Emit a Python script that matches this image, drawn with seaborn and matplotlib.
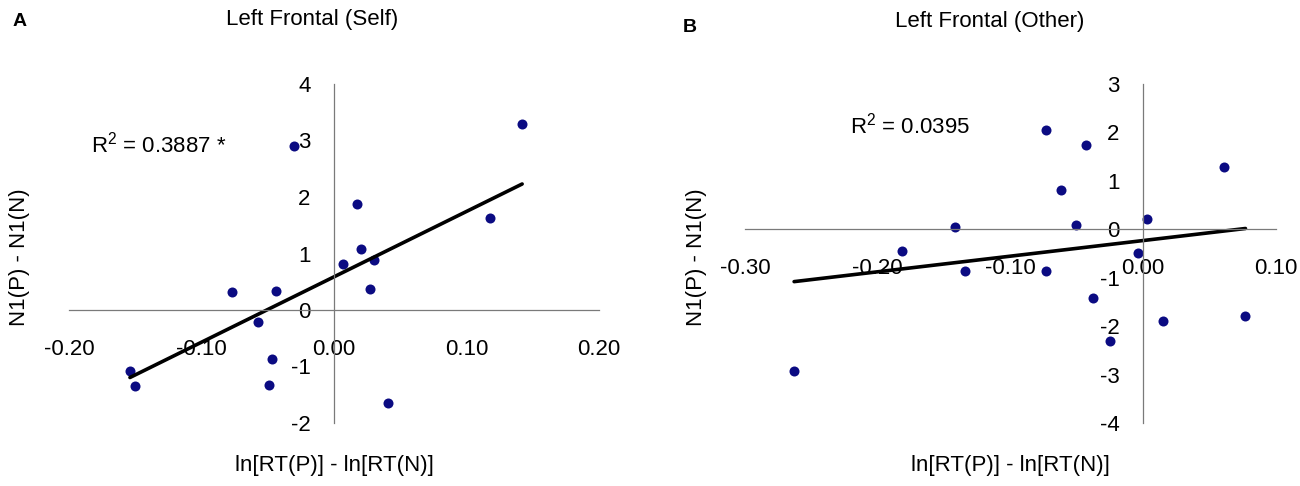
import numpy as np
import pandas as pd
import matplotlib
matplotlib.use("Agg")
import matplotlib.pyplot as plt
import seaborn as sns

# Panel A: Left Frontal (Self)
self_x = [0.142, -0.030, 0.017, 0.118, 0.020, 0.030, 0.007, 0.027,
          -0.077, -0.044, -0.057, -0.047, -0.049, -0.154, -0.150, 0.041]
self_y = [3.30, 2.90, 1.87, 1.62, 1.08, 0.89, 0.81, 0.37,
          0.31, 0.34, -0.22, -0.86, -1.33, -1.08, -1.34, -1.65]

# Panel B: Left Frontal (Other)
other_x = [-0.073, -0.043, 0.0605, -0.062, 0.003, -0.142, -0.051, -0.182,
           -0.004, -0.134, -0.073, -0.038, 0.015, 0.077, -0.025, -0.263]
other_y = [2.05, 1.75, 1.29, 0.81, 0.21, 0.05, 0.09, -0.45,
           -0.48, -0.86, -0.86, -1.42, -1.89, -1.79, -2.30, -2.93]

self_xticks = [-0.20, -0.10, 0.00, 0.10, 0.20]
self_yticks = [-2, -1, 0, 1, 2, 3, 4]
other_xticks = [-0.30, -0.20, -0.10, 0.00, 0.10]
other_yticks = [-4, -3, -2, -1, 0, 1, 2, 3]

titles = ["Left Frontal (Self)", "Left Frontal (Other)"]
r2_labels = [r"$\mathregular{R^2}$ = 0.3887 *", r"$\mathregular{R^2}$ = 0.0395"]
x_label = "ln[RT(P)] - ln[RT(N)]"
y_label = "N1(P) - N1(N)"

sns.set_style("white")
plt.rcParams['font.family'] = ['Liberation Sans', 'DejaVu Sans']
plt.rcParams['axes.unicode_minus'] = False
plt.rcParams['mathtext.fontset'] = 'custom'
plt.rcParams['mathtext.rm'] = 'Liberation Sans'
plt.rcParams['text.color'] = 'black'
plt.rcParams['axes.labelcolor'] = 'black'
plt.rcParams['xtick.labelcolor'] = 'black'
plt.rcParams['ytick.labelcolor'] = 'black'

W, H = 1300, 486
fig = plt.figure(figsize=(13, 4.86), dpi=100)

point_color = "#0b0b82"
axis_color = "#7a7a7a"
fs = 16


def make_panel(rect, xs, ys, xticks, yticks, r2, r2_pos, ylab_x):
    ax = fig.add_axes(rect)
    df = pd.DataFrame({"x": xs, "y": ys})
    sns.regplot(data=df, x="x", y="y", ax=ax, ci=None,
                scatter_kws={"color": point_color, "s": 52, "linewidths": 0, "alpha": 1},
                line_kws={"color": "black", "lw": 2.6})
    ax.set_xlim(xticks[0], xticks[-1])
    ax.set_ylim(yticks[0], yticks[-1])
    ax.set_xticks(xticks)
    ax.set_yticks(yticks)
    ax.set_xticklabels(["%.2f" % t for t in xticks])
    ax.set_yticklabels([str(t) for t in yticks])

    for side in ["top", "right"]:
        ax.spines[side].set_visible(False)
    for side in ["left", "bottom"]:
        ax.spines[side].set_position(("data", 0))
        ax.spines[side].set_color(axis_color)
        ax.spines[side].set_linewidth(0.9)

    ax.tick_params(axis="x", direction="in", length=5, width=0.9, color=axis_color,
                   pad=21, labelsize=fs)
    ax.tick_params(axis="y", direction="in", length=5, width=0.9, color=axis_color,
                   pad=17, labelsize=fs)

    ax.set_xlabel(x_label, fontsize=fs)
    ax.xaxis.label.set_va("center")
    ax.xaxis.set_label_coords(0.5, -0.124)
    ax.set_ylabel(y_label, fontsize=fs)
    ax.yaxis.label.set_va("center")
    ax.yaxis.set_label_coords(ylab_x, 0.49)

    ax.text(r2_pos[0], r2_pos[1], r2, transform=ax.transAxes, fontsize=fs,
            ha="left", va="baseline")
    return ax


bottom = 1 - 423 / H
height = (423 - 84) / H

make_panel([69 / W, bottom, 530 / W, height], self_x, self_y, self_xticks, self_yticks,
           r2_labels[0], (0.0415, 0.799), -0.094)
make_panel([745 / W, bottom, 531 / W, height], other_x, other_y, other_xticks, other_yticks,
           r2_labels[1], (0.198, 0.855), -0.092)

fig.text(312 / W, 1 - 20 / H, titles[0], fontsize=fs, ha="center", va="center")
fig.text(990 / W, 1 - 21 / H, titles[1], fontsize=fs, ha="center", va="center")
fig.text(20 / W, 1 - 22 / H, "A", fontsize=14, fontweight="bold", ha="center", va="center")
fig.text(690 / W, 1 - 27 / H, "B", fontsize=14, fontweight="bold", ha="center", va="center")

fig.savefig("out.png", dpi=100)
